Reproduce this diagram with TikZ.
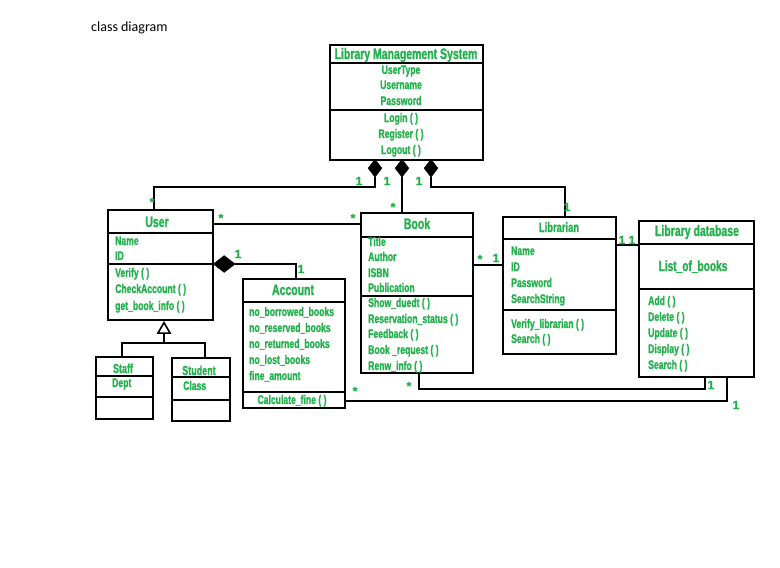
\documentclass[tikz,border=0pt]{standalone}
\usepackage{fontspec}
\setmainfont{Carlito}
\newfontfamily\umlfont[FakeStretch=0.69, FakeBold=1.2, UprightFont={* Bold}]{Liberation Sans}
\newfontfamily\multfont[FakeBold=1.2, UprightFont={* Bold}]{Liberation Sans}
\usetikzlibrary{fit,shapes.geometric}
\definecolor{umlgreen}{RGB}{34,177,76}
\tikzset{
  box/.style={draw=black, line width=2.4pt, inner sep=0pt},
  part/.style={line width=2.4pt},
  conn/.style={line width=2.2pt, line join=miter},
  title/.style={text=umlgreen, inner sep=0pt, text height=11pt, text depth=3pt,
    font=\umlfont\fontsize{15.2}{15.2}\selectfont},
  item/.style={text=umlgreen, inner sep=0pt, anchor=west, text height=9pt, text depth=3pt,
    font=\umlfont\fontsize{12.5}{12.5}\selectfont},
  citem/.style={item, anchor=center},
  mult/.style={text=umlgreen, inner sep=0pt,
    font=\multfont\fontsize{12}{12}\selectfont},
  agg/.style={diamond, fill=black, draw=black, line width=0.4pt, inner sep=0pt,
    minimum width=14pt, minimum height=18pt},
  hagg/.style={agg, minimum width=22pt, minimum height=17pt},
  gen/.style={regular polygon, regular polygon sides=3, draw=black, fill=white,
    line width=1.6pt, inner sep=0pt, minimum size=14pt},
}
\begin{document}
\begin{tikzpicture}[x=1pt, y=-1pt]
\useasboundingbox (0,0) rectangle (780,568);

\node[anchor=west, inner sep=0pt, font=\fontsize{14}{14}\selectfont] (caption) at (91,28) {class diagram};

% ---- Library Management System ----
\node[box, fit={(330,45) (483,160)}] (lms) {};
\draw[part] (lms.west |- 0,63) -- (lms.east |- 0,63);
\draw[part] (lms.west |- 0,110) -- (lms.east |- 0,110);
\node[title] (lmsT) at (406,55) {Library Management System};
\node[citem] (lms1) at (401,71) {UserType};
\node[citem] (lms2) at (401,86) {Username};
\node[citem] (lms3) at (401,102) {Password};
\node[citem] (lms4) at (401,119) {Login ( )};
\node[citem] (lms5) at (401,135) {Register ( )};
\node[citem] (lms6) at (401,151) {Logout ( )};

% ---- User ----
\node[box, fit={(108,210) (213,320)}] (user) {};
\draw[part] (user.west |- 0,233) -- (user.east |- 0,233);
\draw[part] (user.west |- 0,264) -- (user.east |- 0,264);
\node[title] (userT) at (157,223) {User};
\node[item] (user1) at (115,242) {Name};
\node[item] (user2) at (115,257) {ID};
\node[item] (user3) at (115,274) {Verify ( )};
\node[item] (user4) at (115,290) {CheckAccount ( )};
\node[item] (user5) at (115,307) {get\_book\_info ( )};

% ---- Staff / Student ----
\node[box, fit={(96,357) (153,419)}] (staff) {};
\draw[part] (staff.west |- 0,376) -- (staff.east |- 0,376);
\draw[part] (staff.west |- 0,397) -- (staff.east |- 0,397);
\node[title, font=\umlfont\fontsize{13}{13}\selectfont] (staffT) at (123,369) {Staff};
\node[item] (staff1) at (112,384) {Dept};

\node[box, fit={(172,358) (230,421)}] (student) {};
\draw[part] (student.west |- 0,377) -- (student.east |- 0,377);
\draw[part] (student.west |- 0,400) -- (student.east |- 0,400);
\node[title, font=\umlfont\fontsize{13}{13}\selectfont] (studentT) at (199,371) {Student};
\node[item] (student1) at (183,387) {Class};

% ---- Account ----
\node[box, fit={(243,279) (345,408)}] (account) {};
\draw[part] (account.west |- 0,302) -- (account.east |- 0,302);
\draw[part] (account.west |- 0,392) -- (account.east |- 0,392);
\node[title] (accountT) at (293,291) {Account};
\node[item] (acc1) at (249,313) {no\_borrowed\_books};
\node[item] (acc2) at (249,329) {no\_reserved\_books};
\node[item] (acc3) at (249,345) {no\_returned\_books};
\node[item] (acc4) at (249,361) {no\_lost\_books};
\node[item] (acc5) at (249,377) {fine\_amount};
\node[citem] (acc6) at (292,401) {Calculate\_fine ( )};

% ---- Book ----
\node[box, fit={(361,213) (473,373)}] (book) {};
\draw[part] (book.west |- 0,237) -- (book.east |- 0,237);
\draw[part] (book.west |- 0,296) -- (book.east |- 0,296);
\node[title] (bookT) at (417,225) {Book};
\node[item] (book1) at (368,243) {Title};
\node[item] (book2) at (368,258) {Author};
\node[item] (book3) at (368,274) {ISBN};
\node[item] (book4) at (368,289) {Publication};
\node[item] (book5) at (368,304) {Show\_duedt ( )};
\node[item] (book6) at (368,320) {Reservation\_status ( )};
\node[item] (book7) at (368,335) {Feedback ( )};
\node[item] (book8) at (368,351) {Book \_request ( )};
\node[item] (book9) at (368,367) {Renw\_info ( )};

% ---- Librarian ----
\node[box, fit={(503,217) (616,354)}] (librarian) {};
\draw[part] (librarian.west |- 0,239) -- (librarian.east |- 0,239);
\draw[part] (librarian.west |- 0,310) -- (librarian.east |- 0,310);
\node[title, font=\umlfont\fontsize{13.6}{13.6}\selectfont] (librarianT) at (559,228) {Librarian};
\node[item] (lib1) at (511,252) {Name};
\node[item] (lib2) at (511,268) {ID};
\node[item] (lib3) at (511,284) {Password};
\node[item] (lib4) at (511,300) {SearchString};
\node[item] (lib5) at (511,325) {Verify\_librarian ( )};
\node[item] (lib6) at (511,340) {Search ( )};

% ---- Library database ----
\node[box, fit={(639,221) (754,377)}] (libdb) {};
\draw[part] (libdb.west |- 0,244) -- (libdb.east |- 0,244);
\draw[part] (libdb.west |- 0,289) -- (libdb.east |- 0,289);
\node[title] (libdbT) at (697,232) {Library database};
\node[title, font=\umlfont\fontsize{14.7}{14.7}\selectfont] (libdbL) at (693,267) {List\_of\_books};
\node[item] (db1) at (648,302) {Add ( )};
\node[item] (db2) at (648,318) {Delete ( )};
\node[item] (db3) at (648,334) {Update ( )};
\node[item] (db4) at (648,350) {Display ( )};
\node[item] (db5) at (648,366) {Search ( )};

% ---- aggregations from the system class ----
\node[agg, anchor=north] (dUser) at (375,159) {};
\node[agg, anchor=north] (dBook) at (402,159) {};
\node[agg, anchor=north] (dLib) at (431,159) {};
\draw[conn] (dUser.south) -- (dUser.south |- 0,187) -| ([xshift=47pt]user.north west);
\draw[conn] (dBook.south) -- (dBook.south |- book.north);
\draw[conn] (dLib.south) -- (dLib.south |- 0,187) -| (librarian.north -| 565,0);
\node[mult] (m1) at (359,181) {1};
\node[mult] (m2) at (152,202) {*};
\node[mult] (m3) at (387,181) {1};
\node[mult] (m4) at (393,207) {*};
\node[mult] (m5) at (419,181) {1};
\node[mult] (m6) at (567,207) {1};

% ---- User -- Book ----
\draw[conn] (user.east |- 0,224) -- (book.west |- 0,224);
\node[mult] (m7) at (221,218) {*};
\node[mult] (m8) at (353,218) {*};

% ---- User <>-- Account ----
\node[hagg, anchor=west] (dAcc) at (213,264) {};
\draw[conn] (dAcc.east) -| (account.north -| 296,0);
\node[mult] (m9) at (238,254) {1};
\node[mult] (m10) at (301,269) {1};

% ---- generalisation of User ----
\node[gen, anchor=north] (genTri) at (164,321) {};
\coordinate (genJoin) at (164,343);
\draw[conn] (genTri.south) -- (genJoin);
\draw[conn] (genJoin) -| (staff.north -| 122,0);
\draw[conn] (genJoin) -| (student.north -| 205,0);

% ---- Book -- Librarian ----
\draw[conn] (book.east |- 0,265) -- (librarian.west |- 0,265);
\node[mult] (m11) at (480,259) {*};
\node[mult] (m12) at (496,258) {1};

% ---- Librarian -- Library database ----
\draw[conn] (librarian.east |- 0,245) -- (libdb.west |- 0,245);
\node[mult] (m13) at (622,240) {1};
\node[mult] (m14) at (632,240) {1};

% ---- Book -- Library database ----
\draw[conn] (book.south -| 419,0) |- (705,389) -- (libdb.south -| 705,0);
\node[mult] (m15) at (409,386) {*};
\node[mult] (m16) at (711,385) {1};

% ---- Account -- Library database ----
\draw[conn] (account.east |- 0,401) -| (libdb.south -| 727,0);
\node[mult] (m17) at (355,391) {*};
\node[mult] (m18) at (736,405) {1};
\end{tikzpicture}
\end{document}
